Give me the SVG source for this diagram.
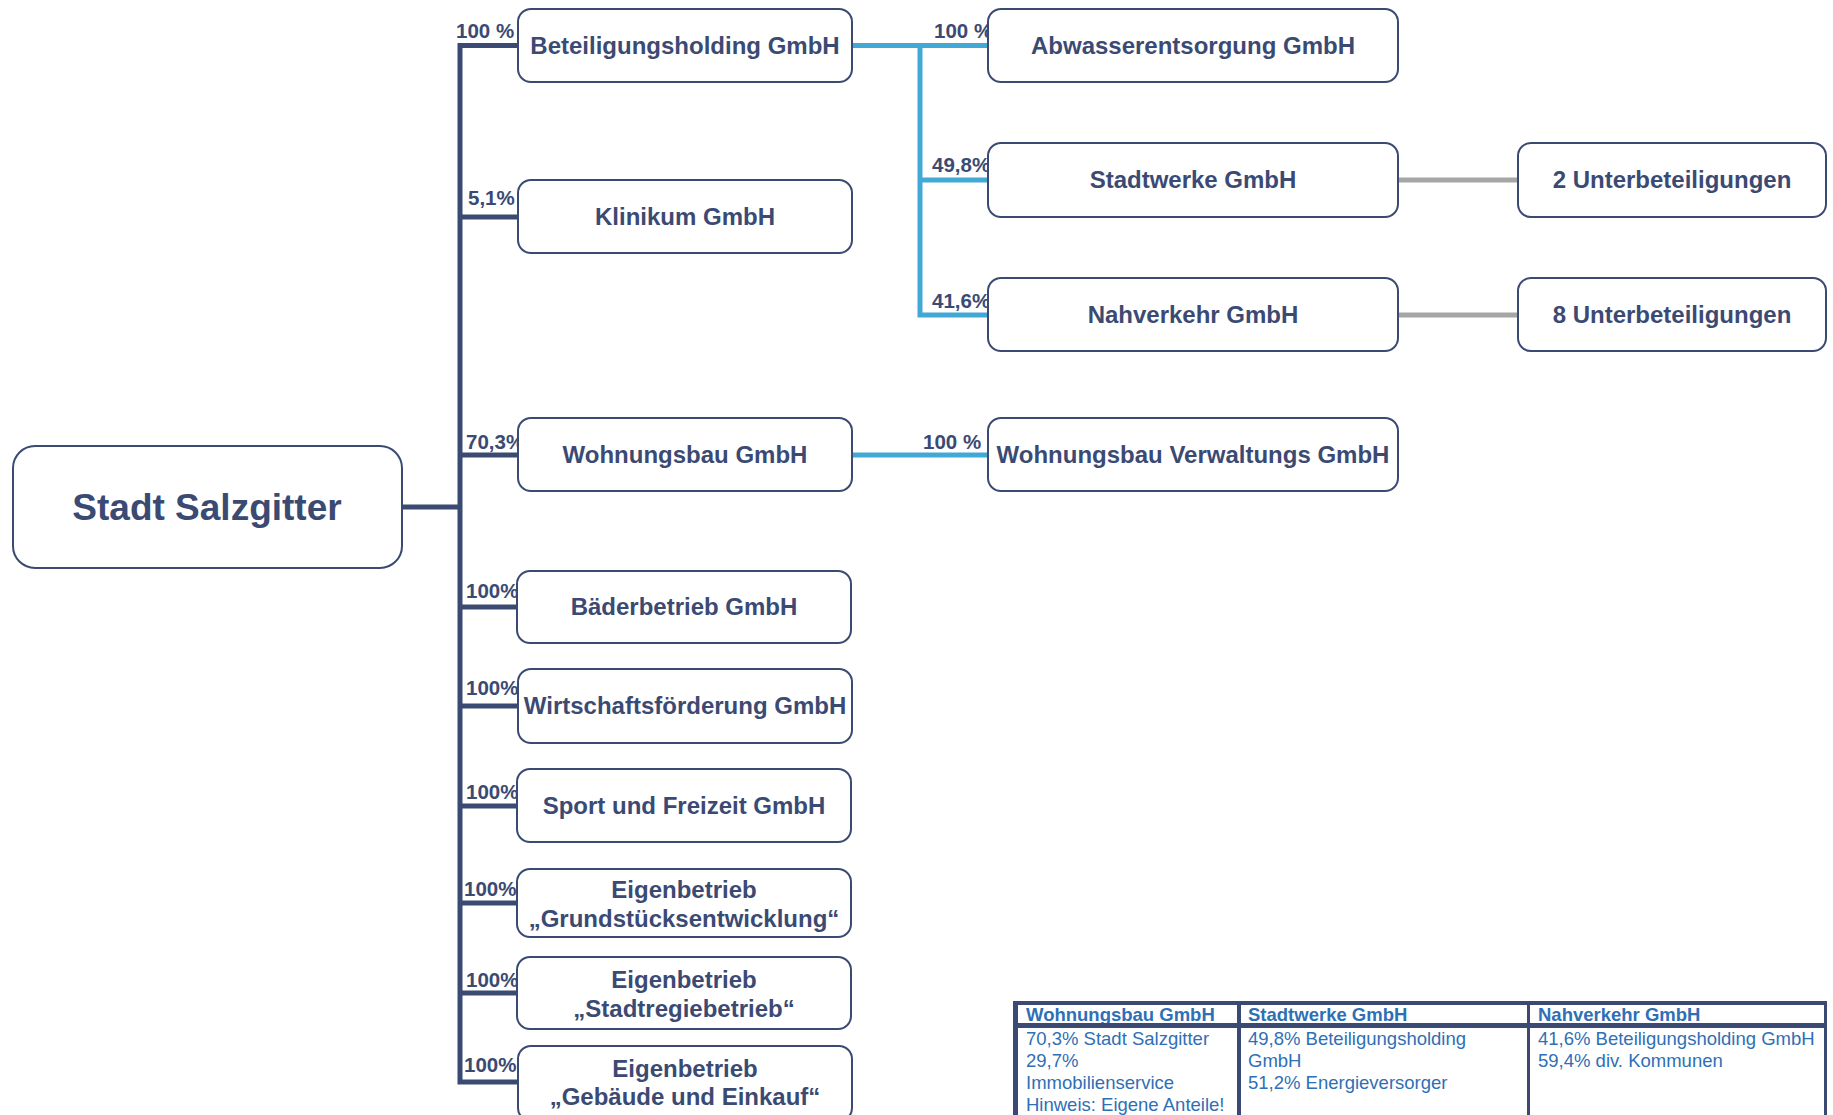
<svg xmlns="http://www.w3.org/2000/svg" width="1833" height="1115" viewBox="0 0 1833 1115">
<style>
.box{fill:#fff;stroke:#3b4a73;stroke-width:2}
.t{font-family:"Liberation Sans",Arial,sans-serif;font-weight:bold;fill:#3b4a73}
.n{font-size:24px;text-anchor:middle}
.lbl{font-size:20.5px}
.trunk{stroke:#3b4a73;stroke-width:5;fill:none}
.blue{stroke:#42a9d7;stroke-width:5;fill:none}
.gray{stroke:#a6a6a6;stroke-width:5;fill:none}
.tab{font-family:"Liberation Sans",Arial,sans-serif;font-size:18.5px;fill:#2e6fb6}
.th{font-weight:bold}
.tb{fill:#3b4a73}
</style>
<rect width="1833" height="1115" fill="#fff"/>
<g id="connectors">
<path class="trunk" d="M402 507H460M518 45.5H460V1082H518M460 217H518M460 455H518M460 607H518M460 706H518M460 806H518M460 903H518M460 993H518"/>
<path class="blue" d="M852 45.5H988M920 45.5V315H988M920 180H988M852 455H988"/>
<path class="gray" d="M1398 180H1518M1398 315H1518"/>
<g class="t lbl">
<text x="456" y="37.5">100 %</text>
<text x="468" y="205">5,1%</text>
<text x="466" y="449">70,3%</text>
<text x="466" y="598">100%</text>
<text x="466" y="695">100%</text>
<text x="466" y="799">100%</text>
<text x="464" y="896">100%</text>
<text x="466" y="987">100%</text>
<text x="464" y="1072">100%</text>
<text x="934" y="37.5">100 %</text>
<text x="932" y="172">49,8%</text>
<text x="932" y="308">41,6%</text>
<text x="923" y="449">100 %</text>
</g>
</g>
<g id="n-stadt"><rect class="box" x="13" y="446" width="389" height="122" rx="22"/><text class="t" x="207" y="520" font-size="37" text-anchor="middle">Stadt Salzgitter</text></g>
<g id="n-beteiligung"><rect class="box" x="518" y="9" width="334" height="73" rx="13"/><text class="t n" x="685" y="54">Beteiligungsholding GmbH</text></g>
<g id="n-klinikum"><rect class="box" x="518" y="180" width="334" height="73" rx="13"/><text class="t n" x="685" y="225">Klinikum GmbH</text></g>
<g id="n-wohnungsbau"><rect class="box" x="518" y="418" width="334" height="73" rx="13"/><text class="t n" x="685" y="463">Wohnungsbau GmbH</text></g>
<g id="n-baeder"><rect class="box" x="517" y="571" width="334" height="72" rx="13"/><text class="t n" x="684" y="615">Bäderbetrieb GmbH</text></g>
<g id="n-wirtschaft"><rect class="box" x="518" y="669" width="334" height="74" rx="13"/><text class="t n" x="685" y="714">Wirtschaftsförderung GmbH</text></g>
<g id="n-sport"><rect class="box" x="517" y="769" width="334" height="73" rx="13"/><text class="t n" x="684" y="814">Sport und Freizeit GmbH</text></g>
<g id="n-grund"><rect class="box" x="517" y="869" width="334" height="68" rx="13"/><text class="t n" x="684" y="898">Eigenbetrieb</text><text class="t n" x="684" y="927">„Grundstücksentwicklung“</text></g>
<g id="n-stadtregie"><rect class="box" x="517" y="957" width="334" height="72" rx="13"/><text class="t n" x="684" y="988">Eigenbetrieb</text><text class="t n" x="684" y="1017">„Stadtregiebetrieb“</text></g>
<g id="n-gebaeude"><rect class="box" x="518" y="1046" width="334" height="75" rx="13"/><text class="t n" x="685" y="1077">Eigenbetrieb</text><text class="t n" x="685" y="1105">„Gebäude und Einkauf“</text></g>
<g id="n-abwasser"><rect class="box" x="988" y="9" width="410" height="73" rx="13"/><text class="t n" x="1193" y="54">Abwasserentsorgung GmbH</text></g>
<g id="n-stadtwerke"><rect class="box" x="988" y="143" width="410" height="74" rx="13"/><text class="t n" x="1193" y="188">Stadtwerke GmbH</text></g>
<g id="n-nahverkehr"><rect class="box" x="988" y="278" width="410" height="73" rx="13"/><text class="t n" x="1193" y="323">Nahverkehr GmbH</text></g>
<g id="n-wbv"><rect class="box" x="988" y="418" width="410" height="73" rx="13"/><text class="t n" x="1193" y="463">Wohnungsbau Verwaltungs GmbH</text></g>
<g id="n-unter2"><rect class="box" x="1518" y="143" width="308" height="74" rx="13"/><text class="t n" x="1672" y="188">2 Unterbeteiligungen</text></g>
<g id="n-unter8"><rect class="box" x="1518" y="278" width="308" height="73" rx="13"/><text class="t n" x="1672" y="323">8 Unterbeteiligungen</text></g>
<g id="table">
<g class="tab">
<text class="th" x="1026" y="1021">Wohnungsbau GmbH</text>
<text class="th" x="1248" y="1021">Stadtwerke GmbH</text>
<text class="th" x="1538" y="1021">Nahverkehr GmbH</text>
<text x="1026" y="1045">70,3% Stadt Salzgitter</text>
<text x="1026" y="1067">29,7%</text>
<text x="1026" y="1089">Immobilienservice</text>
<text x="1026" y="1111">Hinweis: Eigene Anteile!</text>
<text x="1248" y="1045">49,8% Beteiligungsholding</text>
<text x="1248" y="1067">GmbH</text>
<text x="1248" y="1089">51,2% Energieversorger</text>
<text x="1538" y="1045">41,6% Beteiligungsholding GmbH</text>
<text x="1538" y="1067">59,4% div. Kommunen</text>
</g>
<g class="tb">
<rect x="1013" y="1001" width="814" height="4"/>
<rect x="1013" y="1023" width="814" height="5"/>
<rect x="1013" y="1001" width="5" height="114"/>
<rect x="1237" y="1001" width="4" height="114"/>
<rect x="1527" y="1001" width="3" height="114"/>
<rect x="1824" y="1001" width="3" height="114"/>
</g>
</g>
</svg>
